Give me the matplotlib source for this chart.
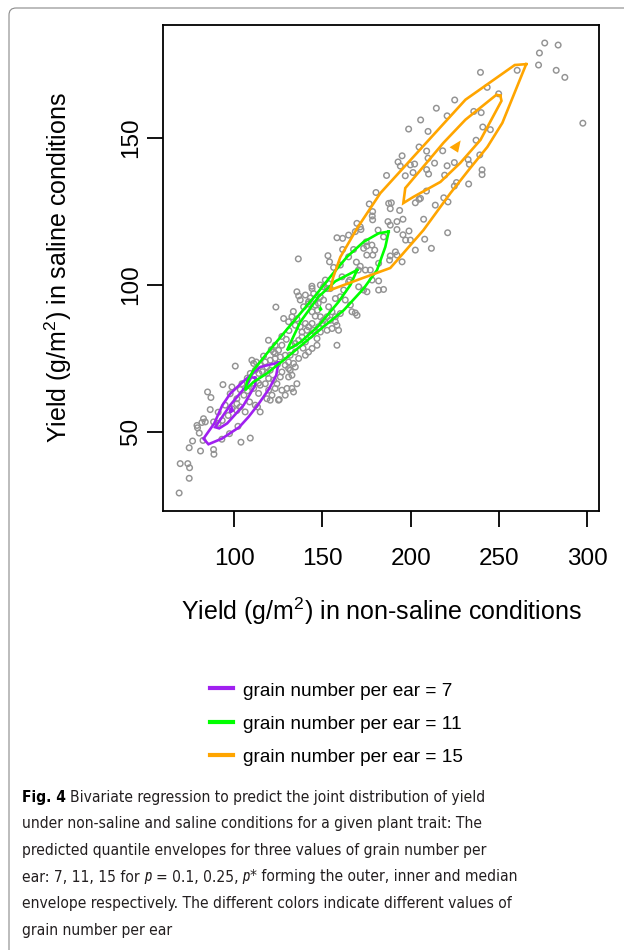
import os
import matplotlib
matplotlib.use('Agg')
import matplotlib.pyplot as plt
from matplotlib import font_manager as fm
from matplotlib.patches import FancyBboxPatch
from matplotlib.lines import Line2D

plt.rcParams['font.family'] = 'Liberation Sans'
plt.rcParams['mathtext.fontset'] = 'custom'
plt.rcParams['mathtext.rm'] = 'Liberation Sans'
plt.rcParams['mathtext.it'] = 'Liberation Sans:italic'

W, H = 624, 950

# ---- dados ----
yield_nonsaline = [
    275.9, 283.5, 272.9, 272.4, 282.4, 287.3, 297.5, 260.3, 239.5, 243.3, 249.8, 224.9, 214.5, 220.6,
    235.7, 239.9, 205.6, 209.8, 198.8, 240.8, 245.1, 237.0, 204.7, 209.0, 218.1, 195.1, 192.8, 194.1,
    199.8, 202.2, 209.8, 213.5, 239.1, 232.5, 233.2, 220.6, 224.7, 209.0, 201.3, 196.9, 210.1, 219.2,
    240.4, 240.4, 186.3, 225.9, 224.7, 232.8, 180.3, 208.9, 176.5, 187.5, 189.0, 188.4, 193.7, 202.6,
    204.7, 213.9, 218.7, 221.1, 178.4, 178.4, 178.2, 187.1, 188.4, 195.6, 207.3, 169.5, 171.8, 181.5,
    192.2, 199.0, 195.6, 197.1, 207.9, 211.7, 220.9, 158.2, 161.4, 164.8, 174.8, 173.3, 175.1, 178.0,
    179.6, 175.1, 178.5, 184.6, 184.6, 181.8, 153.1, 154.0, 161.4, 167.6, 164.8, 136.3, 188.4, 191.3,
    195.1, 156.3, 160.1, 169.2, 171.4, 174.3, 170.3, 168.6, 205.5, 175.2, 144.0, 148.8, 152.6, 164.8,
    162.0, 151.6, 135.5, 136.5, 137.4, 140.3, 143.1, 145.0, 146.0, 148.8, 144.1, 154.4, 157.3, 160.1,
    162.9, 165.8, 166.7, 123.6, 139.3, 141.9, 144.1, 147.1, 153.5, 155.4, 152.6, 148.8, 145.9, 128.0,
    130.8, 132.7, 134.6, 137.4, 140.3, 142.1, 144.1, 138.4, 141.2, 144.9, 147.8, 149.7, 148.8, 143.1,
    146.9, 157.3, 159.1, 155.4, 138.4, 136.5, 140.3, 134.6, 132.7, 119.4, 123.2, 125.1, 122.3, 127.0,
    128.9, 126.1, 123.2, 131.7, 134.6, 136.5, 130.8, 146.9, 158.2, 168.6, 169.6, 173.3, 117.6, 120.4,
    111.0, 114.7, 111.9, 109.1, 118.5, 120.4, 119.5, 117.6, 123.2, 128.9, 130.8, 134.6, 127.0, 126.1,
    130.8, 98.7, 104.4, 97.7, 101.5, 111.0, 113.8, 114.7, 119.5, 121.4, 118.5, 127.0, 129.9, 128.9,
    133.6, 125.1, 108.7, 111.9, 106.2, 114.7, 82.6, 83.6, 100.6, 93.6, 84.9, 86.8, 103.4, 114.0,
    120.4, 125.5, 113.2, 86.4, 81.7, 78.9, 79.2, 80.2, 88.3, 90.9, 102.1, 97.3, 93.0, 82.3,
    76.4, 74.5, 80.9, 88.3, 88.5, 103.8, 109.1, 69.4, 73.7, 74.7, 74.5, 68.8, 101.5, 98.7,
    101.5, 103.4, 94.9, 90.9, 96.6, 93.2, 110.0, 112.5, 116.6, 118.5, 133.6, 131.7, 132.7, 124.2,
    135.5, 132.7, 113.8, 122.3, 107.4, 142.1, 140.3, 144.1, 157.3, 160.1, 154.4, 158.2, 171.4, 192.2,
    199.8, 202.6, 152.6, 177.1, 178.1, 181.8, 188.0, 161.1, 165.4, 170.5, 153.5, 150.6, 181.8, 192.2,
    123.2, 142.1, 145.9, 150.6, 147.6, 133.5, 131.0, 127.0, 135.5, 150.5, 139.0, 129.5, 121.0, 116.0,
    124.5, 105.5, 107.5,
]
yield_saline = [
    182.4, 181.7, 179.0, 174.9, 173.1, 170.7, 155.1, 173.1, 172.4, 167.3, 165.1, 163.0, 160.2, 157.6,
    159.1, 158.7, 156.2, 152.3, 153.1, 153.8, 152.9, 149.3, 147.0, 145.6, 145.7, 144.0, 141.9, 140.5,
    140.9, 141.2, 143.2, 141.5, 144.3, 142.7, 141.1, 140.6, 141.7, 139.3, 138.3, 137.2, 137.8, 137.4,
    139.2, 137.6, 137.3, 134.9, 133.7, 134.4, 131.5, 132.0, 127.6, 127.8, 128.0, 126.0, 125.4, 128.0,
    129.2, 127.2, 129.7, 128.3, 125.0, 122.2, 123.5, 121.6, 120.4, 122.4, 122.4, 121.0, 118.9, 118.7,
    118.9, 118.4, 117.1, 115.3, 115.6, 112.5, 117.8, 116.1, 115.9, 117.0, 114.7, 112.5, 113.3, 113.6,
    111.9, 110.2, 110.2, 116.4, 98.5, 98.3, 110.0, 107.9, 112.1, 112.1, 109.6, 108.9, 109.9, 111.3,
    107.9, 106.0, 106.8, 107.8, 106.4, 105.1, 105.1, 118.2, 129.5, 97.7, 99.6, 100.0, 98.8, 101.1,
    98.3, 101.7, 97.7, 96.3, 94.9, 96.6, 95.6, 97.1, 94.9, 96.0, 98.8, 98.8, 95.4, 96.0,
    94.9, 93.2, 90.9, 92.5, 92.6, 93.5, 90.9, 91.4, 92.6, 90.9, 89.2, 89.2, 89.4, 88.6,
    87.5, 89.2, 86.3, 85.8, 86.9, 85.8, 86.9, 84.0, 84.6, 84.6, 85.8, 86.9, 84.0, 82.9,
    81.8, 87.5, 84.6, 85.2, 82.3, 81.2, 80.6, 80.1, 79.5, 81.2, 79.5, 77.8, 77.2, 79.5,
    76.1, 75.5, 75.0, 76.1, 77.2, 75.0, 73.8, 79.5, 79.5, 90.5, 89.7, 98.3, 73.8, 74.4,
    73.3, 72.7, 71.0, 69.9, 69.9, 71.0, 68.2, 66.4, 76.7, 72.7, 71.6, 72.1, 70.4, 68.7,
    68.7, 65.3, 66.4, 63.0, 61.3, 64.8, 63.1, 65.9, 64.2, 62.5, 61.3, 64.2, 64.8, 62.5,
    63.6, 60.8, 60.2, 59.1, 56.8, 56.8, 54.5, 53.4, 72.4, 66.1, 63.6, 61.7, 64.4, 69.9,
    60.8, 61.0, 58.5, 57.6, 53.2, 52.2, 51.4, 49.6, 53.4, 52.9, 51.9, 49.4, 47.5, 47.1,
    46.9, 44.6, 43.5, 44.0, 42.4, 46.5, 47.9, 39.2, 39.2, 37.8, 34.2, 29.2, 59.6, 57.9,
    57.3, 58.5, 59.1, 56.7, 55.6, 53.9, 74.4, 73.8, 75.8, 72.1, 73.3, 71.0, 69.3, 66.4,
    66.4, 64.8, 66.6, 67.6, 68.3, 77.2, 76.1, 78.4, 89.2, 90.3, 88.0, 86.3, 119.8, 121.6,
    115.3, 111.9, 84.6, 105.1, 101.7, 101.4, 108.5, 102.8, 101.7, 99.4, 100.5, 99.4, 107.4, 110.2,
    64.8, 94.3, 93.2, 94.9, 93.8, 91.0, 84.5, 82.5, 88.5, 88.0, 78.5, 81.5, 78.0, 70.5,
    73.0, 62.5, 64.0,
]

grain_numbers = [7, 11, 15]
env_colors = ['#a020f0', '#00ff00', '#ffa500']

# envelopes: p = 0.1 (outer), 0.25 (inner), p* (median)
gn7_outer_x = [125.1, 114.7, 104.8, 97.7, 93.2, 88.7, 82.6, 85.4, 93.0, 102.8, 108.1, 113.3, 119.8, 123.8]
gn7_outer_y = [73.6, 72.1, 67.0, 63.0, 59.0, 52.9, 47.7, 45.8, 47.7, 51.6, 55.1, 59.1, 64.7, 69.3]
gn7_inner_x = [111.9, 109.6, 107.2, 97.7, 89.2, 91.5, 96.0, 105.3, 111.9]
gn7_inner_y = [68.4, 68.6, 65.9, 59.1, 51.6, 51.2, 52.9, 59.1, 65.9]
gn7_median_x = [97.4, 99.2, 98.6]
gn7_median_y = [56.6, 57.3, 58.1]

gn11_outer_x = [187.5, 185.6, 180.9, 173.3, 162.0, 150.6, 139.3, 127.9, 118.5, 110.9, 106.2,
                107.2, 110.9, 118.5, 127.9, 137.4, 146.9, 154.4, 163.9, 173.3, 181.8]
gn11_outer_y = [118.2, 113.0, 105.1, 98.8, 91.4, 85.8, 80.1, 74.4, 69.9, 67.0, 64.2,
                67.0, 71.0, 76.7, 83.5, 90.3, 97.1, 102.8, 109.6, 114.7, 117.6]
gn11_inner_x = [169.6, 157.3, 147.6, 137.4, 129.9, 137.4, 147.6, 159.0, 165.8]
gn11_inner_y = [105.1, 101.3, 95.9, 87.4, 77.8, 80.5, 86.0, 94.2, 100.0]
gn11_median_x = [148.4, 149.2, 148.9]
gn11_median_y = [91.4, 91.8, 92.1]

gn15_outer_x = [265.4, 258.9, 231.0, 182.8, 169.7, 160.1, 156.1, 154.4, 169.7, 188.4, 192.4,
                207.2, 222.5, 233.8, 243.4, 251.9]
gn15_outer_y = [175.2, 174.9, 163.1, 131.3, 119.4, 109.5, 102.7, 98.3, 101.7, 105.8, 108.5,
                118.7, 131.3, 139.9, 147.0, 155.2]
gn15_inner_x = [250.8, 248.6, 231.0, 218.5, 196.9, 195.8, 201.5, 216.8, 228.1, 239.5, 251.4]
gn15_inner_y = [164.4, 164.8, 156.3, 148.4, 133.0, 127.9, 130.0, 135.1, 141.6, 149.4, 162.7]
gn15_median_x = [223.4, 227.2, 226.3]
gn15_median_y = [146.9, 148.3, 145.8]

xticks = [100, 150, 200, 250, 300]
yticks = [50, 100, 150]

caption = [
    [('Fig. 4', 'bold', 'normal', True),
     ('Bivariate regression to predict the joint distribution of yield', 'normal', 'normal', False)],
    [('under non-saline and saline conditions for a given plant trait: The', 'normal', 'normal', False)],
    [('predicted quantile envelopes for three values of grain number per', 'normal', 'normal', False)],
    [('ear: 7, 11, 15 for', 'normal', 'normal', True), ('p', 'normal', 'italic', True),
     ('= 0.1, 0.25,', 'normal', 'normal', True), ('p', 'normal', 'italic', False),
     ('* forming the outer, inner and median', 'normal', 'normal', False)],
    [('envelope respectively. The different colors indicate different values of', 'normal', 'normal', False)],
    [('grain number per ear', 'normal', 'normal', False)],
]


# ---- fonte do texto da legenda: versao condensada se houver ----
def acha_arquivo(ok, weight, style):
    for fam in ['Noto Sans', 'Open Sans', 'DejaVu Sans', 'Roboto']:
        for f in fm.fontManager.ttflist:
            base = os.path.basename(f.fname)
            if ok(base) and f.name.startswith(fam) and f.weight == weight and f.style == style:
                return f.fname
    return None


testes = [
    lambda b: 'Condensed' in b and 'Semi' not in b and 'Extra' not in b and 'Ultra' not in b,
    lambda b: 'SemiCondensed' in b,
]
cap_files = None
for ok in testes:
    reg = acha_arquivo(ok, 400, 'normal')
    if reg:
        cap_files = {
            ('normal', 'normal'): reg,
            ('bold', 'normal'): acha_arquivo(ok, 700, 'normal') or reg,
            ('normal', 'italic'): acha_arquivo(ok, 400, 'italic') or reg,
        }
        break


def cap_props(weight, style, size):
    if cap_files:
        return fm.FontProperties(fname=cap_files[(weight, style)], size=size)
    return fm.FontProperties(family='Lato', weight=weight, style=style, size=size)


# ---- figura ----
fig = plt.figure(figsize=(W / 100, H / 100), dpi=100)
moldura = FancyBboxPatch((0.09, -0.3), 6.6, 9.42 + 0.3,
                         boxstyle='round,pad=0,rounding_size=0.07',
                         transform=fig.dpi_scale_trans, fc='white', ec='#8a8a8a', lw=0.8, zorder=0)
fig.add_artist(moldura)

ax = fig.add_axes([163 / W, 1 - 511 / H, 436 / W, 486 / H])
ax.set_facecolor('none')

ax.scatter(yield_nonsaline, yield_saline, s=16, facecolors='none', edgecolors='#939393',
           linewidths=1.05, zorder=2)

envelopes = [
    (gn7_outer_x, gn7_outer_y, gn7_inner_x, gn7_inner_y, gn7_median_x, gn7_median_y),
    (gn11_outer_x, gn11_outer_y, gn11_inner_x, gn11_inner_y, gn11_median_x, gn11_median_y),
    (gn15_outer_x, gn15_outer_y, gn15_inner_x, gn15_inner_y, gn15_median_x, gn15_median_y),
]
for (ox, oy, ix, iy, mx, my), cor in zip(envelopes, env_colors):
    ax.plot(ox + ox[:1], oy + oy[:1], color=cor, lw=1.9, zorder=3, solid_joinstyle='miter')
    ax.plot(ix + ix[:1], iy + iy[:1], color=cor, lw=1.9, zorder=3, solid_joinstyle='miter')
    ax.fill(mx, my, color=cor, lw=1.9, ec=cor, zorder=3)

# limites como no R (4% de folga)
xr = max(yield_nonsaline) - min(yield_nonsaline)
yr = max(yield_saline) - min(yield_saline)
ax.set_xlim(min(yield_nonsaline) - 0.04 * xr, max(yield_nonsaline) + 0.04 * xr)
ax.set_ylim(min(yield_saline) - 0.04 * yr, max(yield_saline) + 0.04 * yr)

ax.set_xticks(xticks)
ax.set_yticks(yticks)
for s in ax.spines.values():
    s.set_linewidth(1.3)
ax.tick_params(direction='out', length=11.5, width=1.3, labelsize=17.5)
ax.tick_params(axis='x', pad=15)
ax.tick_params(axis='y', pad=3.5)
plt.setp(ax.get_yticklabels(), rotation=90, va='center', ha='right')

fig.text(381 / W, 1 - 620 / H, r'Yield (g/m$^2$) in non-saline conditions', fontsize=18,
         ha='center', va='baseline')
fig.text(67 / W, 1 - 268 / H, r'Yield (g/m$^2$) in saline conditions', fontsize=18,
         ha='center', va='baseline', rotation=90, rotation_mode='anchor')

# legenda
for k, (g, cor) in enumerate(zip(grain_numbers, env_colors)):
    yc = 688.3 + 33.3 * k
    fig.add_artist(Line2D([210 / W, 233 / W], [1 - yc / H, 1 - yc / H], color=cor, lw=3,
                          transform=fig.transFigure))
    fig.text(243 / W, 1 - (yc + 7.2) / H, 'grain number per ear = %d' % g, fontsize=13.7,
             ha='left', va='baseline')

# legenda da figura (caption)
renderer = fig.canvas.get_renderer()
cap_cor = '#231f20'


def largura(txt, size, weight='normal', style='normal'):
    t = fig.text(0, 0, txt, fontproperties=cap_props(weight, style, size))
    w = t.get_window_extent(renderer).width
    t.remove()
    return w


tam = 12 * 460 / largura(caption[1][0][0], 12)
tam = min(tam, 16)
espaco = largura('a a', tam) - largura('aa', tam)

for k, linha in enumerate(caption):
    x = 22.0
    yb = 801.7 + 26.6 * k
    for txt, weight, style, sp in linha:
        t = fig.text(x / W, 1 - yb / H, txt, fontproperties=cap_props(weight, style, tam),
                     color='black' if weight == 'bold' else cap_cor,
                     ha='left', va='baseline')
        x += t.get_window_extent(renderer).width
        if sp:
            x += espaco

fig.savefig('out.png', dpi=100)
